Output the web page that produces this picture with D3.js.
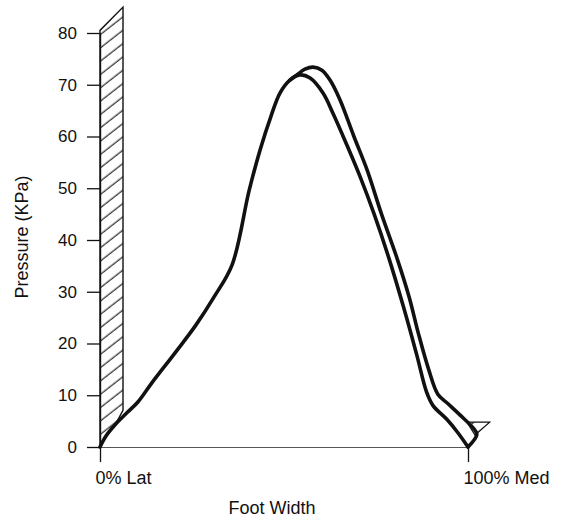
<!DOCTYPE html>
<meta charset="utf-8">
<script src="https://d3js.org/d3.v7.min.js"></script>
<style>
  body { margin: 0; background: #fff; }
  text { font-family: "Liberation Sans", Arial, sans-serif; fill: #111; }
</style>
<body>
<div id="chart"></div>
<script>

// axis ticks
var yTicks = [0, 10, 20, 30, 40, 50, 60, 70, 80];
var xTicks = [0, 100];
var xTickLabels = ["0% Lat", "100% Med"];

// [foot width %, pressure KPa] - rising side, shared by both traces
var rise = [[0, 0], [1.5, 2], [4.1, 4.3], [7.6, 6.8], [10.3, 8.7], [14, 12.3],
            [20.4, 18.2], [26, 23.5], [31, 29], [35.9, 35.2], [40.5, 49.5],
            [43.5, 57.4], [46.5, 64], [48.9, 68.4], [51.6, 70.9]];

// inner (lower) trace, falling side
var innerFall = [[54.3, 71.9], [57.1, 71.3], [60.6, 68.4], [63.3, 64.5], [67, 58.5],
                 [70.7, 52.2], [74.5, 45], [78.5, 36.5], [82.5, 27], [86, 18],
                 [88.8, 10.5], [90.5, 8], [94.3, 5.3], [97.2, 2.8], [100, 0]];

// outer (higher) trace, branching off near the peak
var outerFall = [[51.6, 70.9], [53.5, 71.9], [55.7, 73.0], [57.9, 73.4], [60.3, 72.8],
                 [62.5, 70.9], [65.2, 67.1], [69, 60], [72.6, 53.5], [76.5, 45],
                 [80.7, 36.5], [84, 29], [86.5, 22], [89.3, 15], [91.8, 10.2],
                 [94.5, 8.4], [97.8, 6.2], [101.5, 3.6], [102.4, 2.4], [100, 0]];

// hatched walls at each edge of the foot
var latWall = [[0, 0], [0, 80.5], [6.25, 85], [6.25, 7.1], [4.1, 4.3], [1.5, 2]];
var medWall = [[99.7, 4.8], [105.9, 4.8], [101.9, 2.3]];

var W = 577, H = 520;
var svg = d3.select("#chart").append("svg")
    .attr("width", W)
    .attr("height", H);

var x = d3.scaleLinear().domain([0, 100]).range([100, 468]);
var y = d3.scaleLinear().domain([0, 80]).range([447, 33]);

// hatch pattern
var pat = svg.append("defs").append("pattern")
    .attr("id", "hatch")
    .attr("patternUnits", "userSpaceOnUse")
    .attr("width", 10)
    .attr("height", 10.5)
    .attr("patternTransform", "rotate(-38)");
pat.append("line")
    .attr("x1", -1).attr("y1", 5).attr("x2", 11).attr("y2", 5)
    .attr("stroke", "#111").attr("stroke-width", 1.1);

var poly = d3.line().x(function(d) { return x(d[0]); }).y(function(d) { return y(d[1]); });

svg.append("path")
    .attr("d", poly(latWall) + "Z")
    .attr("fill", "url(#hatch)")
    .attr("stroke", "#111")
    .attr("stroke-width", 1.4);

svg.append("path")
    .attr("d", poly(medWall) + "Z")
    .attr("fill", "url(#hatch)")
    .attr("stroke", "#111")
    .attr("stroke-width", 1.2);

// x axis (thin grey baseline with end ticks)
var xAxis = svg.append("g")
    .attr("transform", "translate(0," + y(0) + ")")
    .call(d3.axisBottom(x).tickValues(xTicks).tickSize(15).tickPadding(9)
      .tickFormat(function(d, i) { return xTickLabels[i]; }));
xAxis.select(".domain").attr("stroke", "#555").attr("stroke-width", 1);
xAxis.selectAll(".tick line").attr("stroke", "#111").attr("stroke-width", 1.3);
xAxis.selectAll(".tick text")
    .attr("text-anchor", "start")
    .attr("dx", "-5")
    .style("font-size", "18px");

// y axis
var yAxis = svg.append("g")
    .attr("transform", "translate(" + x(0) + ",0)")
    .call(d3.axisLeft(y).tickValues(yTicks).tickSize(13).tickPadding(10).tickSizeOuter(0));
yAxis.select(".domain").attr("stroke", "#111").attr("stroke-width", 1.4);
yAxis.selectAll(".tick line").attr("stroke", "#111").attr("stroke-width", 1.3);
yAxis.selectAll(".tick text").style("font-size", "17px");

// pressure traces
var curve = d3.line()
    .x(function(d) { return x(d[0]); })
    .y(function(d) { return y(d[1]); })
    .curve(d3.curveCatmullRom.alpha(0.5));

svg.append("path")
    .attr("d", curve(rise.concat(innerFall)))
    .attr("fill", "none")
    .attr("stroke", "#111")
    .attr("stroke-width", 3.6)
    .attr("stroke-linejoin", "round")
    .attr("stroke-linecap", "round");

svg.append("path")
    .attr("d", curve(outerFall))
    .attr("fill", "none")
    .attr("stroke", "#111")
    .attr("stroke-width", 3.6)
    .attr("stroke-linejoin", "round")
    .attr("stroke-linecap", "round");

// axis titles
svg.append("text")
    .attr("transform", "translate(28," + 237 + ") rotate(-90)")
    .attr("text-anchor", "middle")
    .style("font-size", "18px")
    .text("Pressure (KPa)");

svg.append("text")
    .attr("x", 272)
    .attr("y", 514)
    .attr("text-anchor", "middle")
    .style("font-size", "18px")
    .text("Foot Width");

</script>
</body>
</html>
